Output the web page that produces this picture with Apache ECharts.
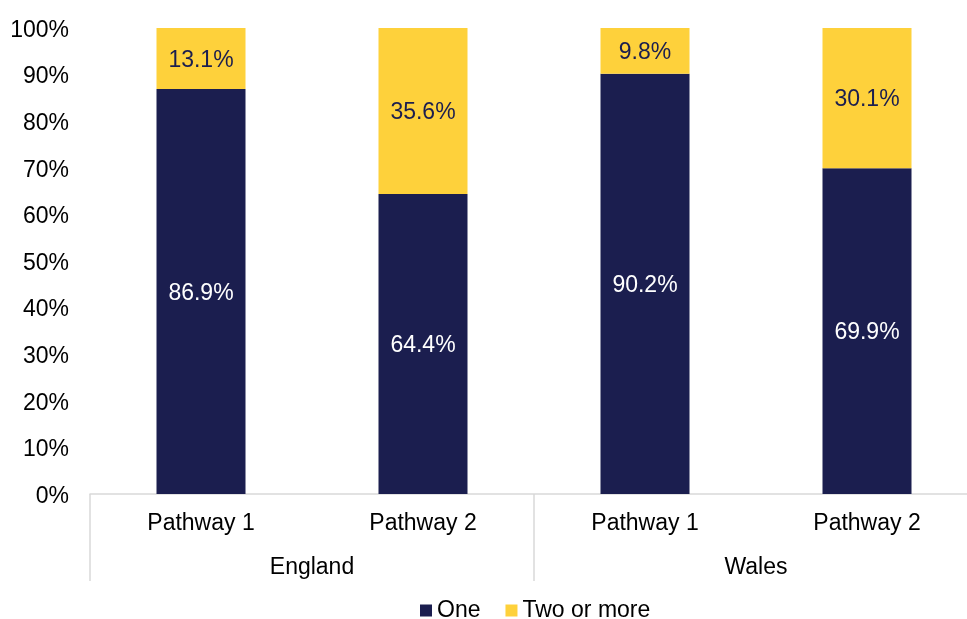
<!DOCTYPE html>
<html>
<head>
<meta charset="utf-8">
<script src="https://cdn.jsdelivr.net/npm/echarts@6/dist/echarts.min.js"></script>
<style>
  html, body { margin: 0; padding: 0; background: #fff; }
  #chart { width: 967px; height: 619px; }
</style>
</head>
<body>
<div id="chart"></div>
<script>
// Pathway categories, grouped by nation
const pathways = ['Pathway 1', 'Pathway 2', 'Pathway 1', 'Pathway 2'];
const nations = ['England', 'Wales'];
// Percentage split per pathway
const one = [86.9, 64.4, 90.2, 69.9];
const twoOrMore = [13.1, 35.6, 9.8, 30.1];
const yTicks = [0, 10, 20, 30, 40, 50, 60, 70, 80, 90, 100];

const NAVY = '#1b1e4f';
const YELLOW = '#fed13b';
const FONT = 'Liberation Sans, Arial, sans-serif';
const FS = 23;

const chart = echarts.init(document.getElementById('chart'), null, { renderer: 'canvas' });

chart.setOption({
  animation: false,
  textStyle: { fontFamily: FONT },
  grid: {
    left: 90, top: 28, width: 888, bottom: 125,
    containLabel: false,
    outerBoundsMode: 'none'
  },
  legend: {
    left: 415,
    top: 594,
    itemWidth: 12,
    itemHeight: 12,
    itemGap: 25,
    icon: 'rect',
    textStyle: { fontFamily: FONT, fontSize: FS, color: '#000' },
    data: ['One', 'Two or more']
  },
  xAxis: [
    {
      type: 'category',
      data: pathways,
      position: 'bottom',
      axisLine: { show: true, lineStyle: { color: '#d9d9d9', width: 1.5 } },
      axisTick: { show: false },
      axisLabel: { fontFamily: FONT, fontSize: FS, color: '#000', margin: 18 }
    },
    {
      type: 'category',
      data: nations,
      position: 'bottom',
      axisLine: { show: false },
      axisTick: {
        show: true,
        alignWithLabel: false,
        length: 87,
        lineStyle: { color: '#d9d9d9', width: 1.5 }
      },
      axisLabel: { fontFamily: FONT, fontSize: FS, color: '#000', margin: 62 }
    }
  ],
  yAxis: {
    type: 'value',
    min: yTicks[0],
    max: yTicks[yTicks.length - 1],
    interval: 10,
    axisLine: { show: false },
    axisTick: { show: false },
    splitLine: { show: false },
    axisLabel: {
      fontFamily: FONT,
      fontSize: FS,
      color: '#000',
      margin: 21,
      formatter: v => '{t|' + v + '%}',
      rich: {
        t: { fontFamily: FONT, fontSize: FS, color: '#000', padding: [5, 0, 0, 0] }
      }
    }
  },
  series: [
    {
      name: 'One',
      type: 'bar',
      stack: 'total',
      xAxisIndex: 0,
      barWidth: 89,
      data: one,
      itemStyle: { color: NAVY },
      label: {
        show: true,
        position: 'inside',
        offset: [0, 2],
        fontFamily: FONT,
        fontSize: FS,
        color: '#fff',
        formatter: p => p.value.toFixed(1) + '%'
      }
    },
    {
      name: 'Two or more',
      type: 'bar',
      stack: 'total',
      xAxisIndex: 0,
      barWidth: 89,
      data: twoOrMore,
      itemStyle: { color: YELLOW },
      label: {
        show: true,
        position: 'inside',
        offset: [0, 2],
        fontFamily: FONT,
        fontSize: FS,
        color: NAVY,
        formatter: p => p.value.toFixed(1) + '%'
      }
    }
  ]
});
</script>
</body>
</html>
